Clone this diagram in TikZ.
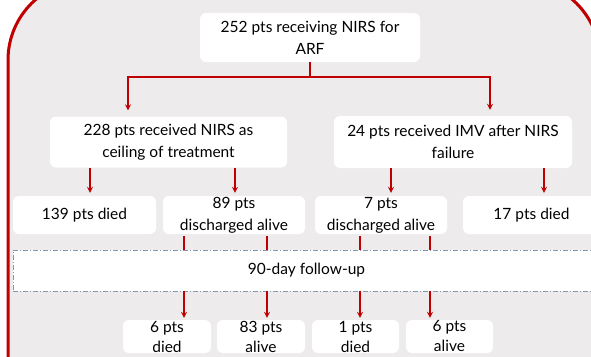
\documentclass[tikz,border=0pt]{standalone}
\usepackage{fontspec}
\setmainfont{Lato}
\usetikzlibrary{positioning}
\definecolor{flowred}{RGB}{192,0,0}
\definecolor{flowgray}{RGB}{237,235,236}
\definecolor{flowblue}{RGB}{132,151,176}

\begin{document}
\begin{tikzpicture}[x=1pt,y=-1pt,
  box/.style={fill=white, rounded corners=6pt, align=center, inner sep=0pt,
    font=\fontsize{15.5}{22}\selectfont},
  small box/.style={box, minimum height=33pt, font=\fontsize{15.5}{20}\selectfont},
  link/.style={draw=flowred, line width=1.6pt},
  arrow/.style={link, -stealth, shorten >=3pt}]
  \useasboundingbox (0,0) rectangle (591,356);
  \clip (0,0) rectangle (591,356);
  \draw[flowred, line width=3pt, fill=flowgray, rounded corners=80pt] (8,-20) rectangle (600,520);

  \node[box, minimum width=220pt, minimum height=49pt] (arf) at (310,37.5) {252 pts receiving NIRS for\\ARF};
  \node[box, minimum width=237pt, minimum height=51pt] (ceiling) at (168.5,142) {228 pts received NIRS as\\ceiling of treatment};
  \node[box, minimum width=238pt, minimum height=52pt] (imv) at (453,142) {24 pts received IMV after NIRS\\failure};

  \node[box, minimum width=143pt, minimum height=38pt] (died1) at (84.5,215) {139 pts died};
  \node[box, minimum width=142pt, minimum height=38pt] (alive1) at (234,215) {89 pts\\discharged alive};
  \node[box, minimum width=132pt, minimum height=38pt] (alive2) at (381,215) {7 pts\\discharged alive};
  \node[box, minimum width=137pt, minimum height=38pt] (died2) at (531.5,215) {17 pts died};

  \node[box, rounded corners=0pt, draw=flowblue, line width=0.8pt,
    dash pattern=on 5pt off 2pt on 1pt off 2pt,
    minimum width=587pt, minimum height=41pt] (follow) at (306.5,270.5) {90-day follow-up};

  \node[small box, minimum width=88pt] (died3) at (167,336.5) {6 pts\\died};
  \node[small box, minimum width=88pt] (alive3) at (261,336.5) {83 pts\\alive};
  \node[small box, minimum width=87pt] (died4) at (355.5,336.5) {1 pts\\died};
  \node[small box, minimum width=87pt] (alive4) at (449.5,336.5) {6 pts\\alive};

  \coordinate (split) at (310,77);
  \draw[link] (arf) -- (split);
  \draw[arrow, shorten >=6pt] (split) -| (ceiling.north -| 128,0);
  \draw[arrow, shorten >=6pt] (split) -| (imv.north -| 490,0);

  \draw[arrow] (ceiling.south -| 90,0) -- (died1.north -| 90,0);
  \draw[arrow] (ceiling.south -| 235,0) -- (alive1.north -| 235,0);
  \draw[arrow] (imv.south -| 391,0) -- (alive2.north -| 391,0);
  \draw[arrow] (imv.south -| 544,0) -- (died2.north -| 544,0);

  \foreach \x/\from/\to in {184/alive1/died3, 267/alive1/alive3, 360/alive2/died4, 430/alive2/alive4}{
    \draw[link, shorten <=2pt] (\from.south -| \x,0) -- (follow.north -| \x,0);
    \draw[arrow, shorten >=2pt] (follow.south -| \x,0) -- (\to.north -| \x,0);
  };
\end{tikzpicture}
\end{document}
